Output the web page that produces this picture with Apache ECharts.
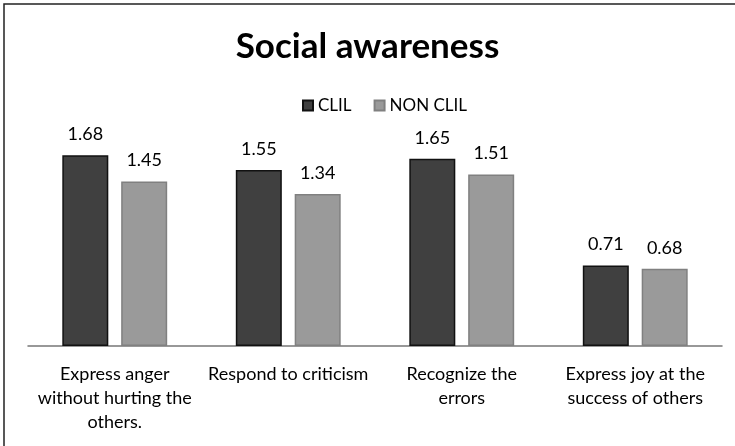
<!DOCTYPE html>
<html>
<head>
<meta charset="utf-8">
<script src="https://cdn.jsdelivr.net/npm/echarts@6/dist/echarts.min.js"></script>
<style>
  html, body { margin: 0; padding: 0; background: #fff; }
  #box { width: 735px; height: 446px; }
</style>
</head>
<body>
<div id="box"></div>
<script>
const categories = [
  'Express anger\nwithout hurting the\nothers.',
  'Respond to criticism',
  'Recognize the\nerrors',
  'Express joy at the\nsuccess of others'
];
const clil = [1.68, 1.55, 1.65, 0.71];
const nonClil = [1.45, 1.34, 1.51, 0.68];

const font = 'Lato, "Open Sans", sans-serif';
const chart = echarts.init(document.getElementById('box'));
chart.setOption({
  animation: false,
  title: {
    text: 'Social awareness',
    left: 'center',
    top: 24,
    textStyle: { fontFamily: font, fontSize: 35, fontWeight: 'bold', color: '#000' }
  },
  legend: {
    top: 92,
    left: 297,
    itemWidth: 10,
    itemHeight: 10,
    itemGap: 22,
    icon: 'rect',
    textStyle: { fontFamily: font, fontSize: 17, color: '#000' },
    data: ['CLIL', 'NON CLIL']
  },
  graphic: [{
    type: 'rect',
    shape: { x: 4, y: 4, width: 800, height: 500 },
    style: { fill: 'none', stroke: '#222', lineWidth: 1.5 },
    silent: true
  }],
  grid: { left: 28, right: 13, top: 119, bottom: 100 },
  xAxis: {
    type: 'category',
    data: categories,
    axisTick: { show: false },
    axisLine: { lineStyle: { color: '#777', width: 1.5 } },
    axisLabel: {
      interval: 0,
      margin: 16,
      lineHeight: 24,
      fontFamily: font,
      fontSize: 18,
      color: '#000'
    }
  },
  yAxis: {
    type: 'value',
    min: 0,
    max: 2,
    show: false
  },
  series: [
    {
      name: 'CLIL',
      type: 'bar',
      data: clil,
      barWidth: 46,
      barGap: '28%',
      itemStyle: { color: '#404040', borderColor: '#111', borderWidth: 1.5 },
      label: { show: true, position: 'top', distance: 12, fontFamily: font, fontSize: 18, color: '#000' }
    },
    {
      name: 'NON CLIL',
      type: 'bar',
      data: nonClil,
      barWidth: 46,
      itemStyle: { color: '#9a9a9a', borderColor: '#808080', borderWidth: 1.5 },
      label: { show: true, position: 'top', distance: 12, fontFamily: font, fontSize: 18, color: '#000' }
    }
  ]
});
</script>
</body>
</html>
